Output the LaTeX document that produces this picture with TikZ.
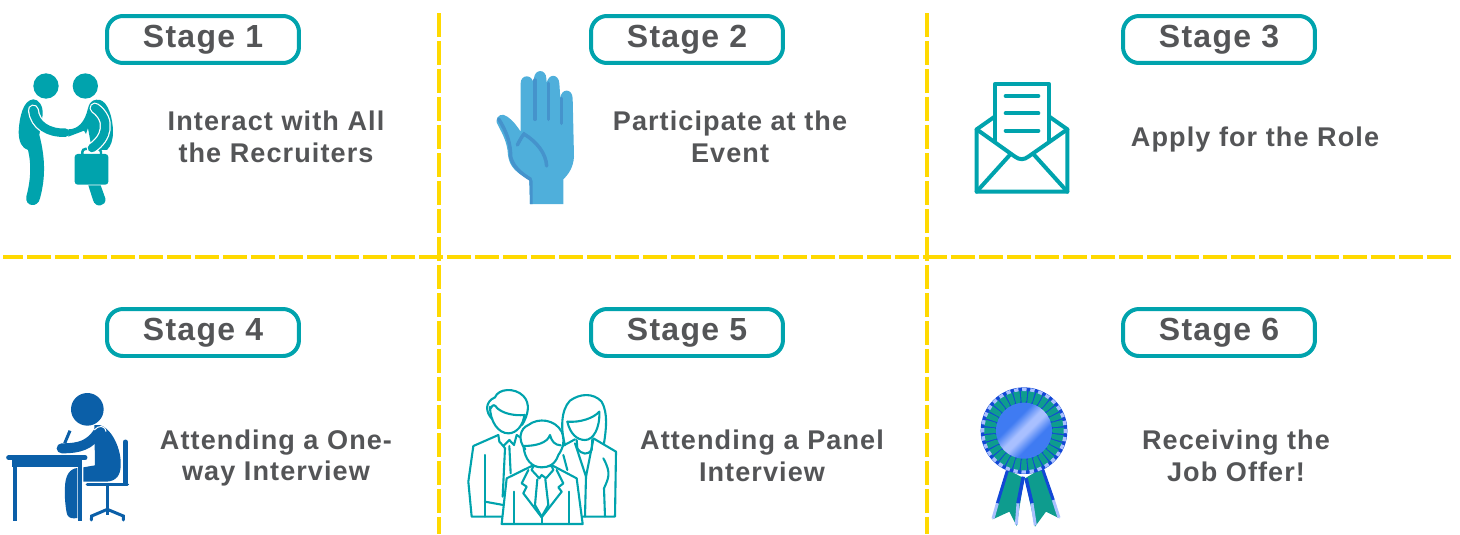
\documentclass[tikz,border=0pt]{standalone}
\usepackage{fontspec}
\setmainfont{Liberation Sans}[LetterSpace=4]
\definecolor{boxteal}{HTML}{00A3AD}
\definecolor{textgrey}{HTML}{545557}
\definecolor{linegold}{HTML}{FFD900}
\definecolor{handblue}{HTML}{4FAFDB}
\definecolor{handdark}{HTML}{4593CC}
\definecolor{deskblue}{HTML}{0B5FA8}
\definecolor{ribbongreen}{HTML}{0E9C8E}
\definecolor{ribbonblue}{HTML}{1247D6}
\definecolor{ribbonpale}{HTML}{A9C0FF}
\definecolor{rosetteblue}{HTML}{3F7BF2}
\pgfdeclarehorizontalshading{rosetteshine}{100bp}{color(0bp)=(rosetteblue);color(38bp)=(rosetteblue);color(48bp)=(ribbonpale);color(53bp)=(ribbonpale);color(63bp)=(rosetteblue);color(100bp)=(rosetteblue)}
\tikzset{
    stagebox/.style={draw=boxteal, line width=0.08cm, rounded corners=0.32cm, minimum width=3.84cm, minimum height=0.94cm, inner sep=0pt, text=textgrey, font=\bfseries\fontsize{18.2}{20}\selectfont},
    stepnote/.style={align=center, inner sep=0pt, text=textgrey, font=\bfseries\fontsize{15.4}{18.14}\selectfont},
    divider/.style={draw=linegold, line width=0.08cm, dash pattern=on 0.48cm off 0.08cm},
    iconline/.style={draw=boxteal, line width=0.08cm, line cap=round, line join=round},
    panelline/.style={draw=boxteal, line width=0.042cm, line cap=round, line join=round},
    icon/.style={shift={#1}, scale=0.33333}
}
\begin{document}
\begin{tikzpicture}[x=0.02cm,y=-0.02cm]
    \useasboundingbox (0,0) rectangle (1460,534);

    % Drawing the dividers
    \coordinate (rowStart) at (-1,257);
    \coordinate (rowEnd) at (1452,257);
    \coordinate (colOneTop) at (439,13);
    \coordinate (colOneEnd) at (439,534);
    \coordinate (colTwoTop) at (927,13);
    \coordinate (colTwoEnd) at (927,534);
    \begin{scope}
        \clip (3,240) rectangle (1460,270);
        \draw [divider] (rowStart) -- (rowEnd);
    \end{scope}
    \draw [divider] (colOneTop) -- (colOneEnd);
    \draw [divider] (colTwoTop) -- (colTwoEnd);

    % Marking the stage boxes
    \node [stagebox] (stageOne) at (203,39.5) {Stage 1};
    \node [stagebox] (stageTwo) at (687,39.5) {Stage 2};
    \node [stagebox] (stageThree) at (1219,39.5) {Stage 3};
    \node [stagebox] (stageFour) at (203,332.5) {Stage 4};
    \node [stagebox] (stageFive) at (687,332.5) {Stage 5};
    \node [stagebox] (stageSix) at (1219,332.5) {Stage 6};

    % Marking the notes
    \node [stepnote] (noteOne) at (276,137) {Interact with All\\the Recruiters};
    \node [stepnote] (noteTwo) at (730,137) {Participate at the\\Event};
    \node [stepnote] (noteThree) at (1255,140) {Apply for the Role};
    \node [stepnote] (noteFour) at (276,458) {Attending a One-\\way Interview};
    \node [stepnote] (noteFive) at (762,456) {Attending a Panel\\Interview};
    \node [stepnote] (noteSix) at (1236,456) {Receiving the\\Job Offer!};

    % Drawing handshake icon
    \begin{scope}[icon={(0,0)}]
        \fill [boxteal] (138,258) circle (38);
        \fill [boxteal] (256,258) circle (38);
        \fill [boxteal] (100,298) .. controls (70,300) and (58,350) .. (56,395)
            .. controls (56,425) and (66,445) .. (84,450)
            .. controls (95,495) and (92,540) .. (79,590)
            .. controls (74,620) and (114,625) .. (120,595)
            .. controls (135,540) and (138,480) .. (118,405)
            -- (128,345) .. controls (130,315) and (115,298) .. (100,298) -- cycle;
        \draw [white, line width=0.22cm, line cap=round] (100,330) .. controls (105,375) and (145,400) .. (196,398);
        \draw [boxteal, line width=0.17cm, line cap=round] (100,330) .. controls (105,375) and (145,400) .. (196,398);
        \fill [boxteal] (205,388) .. controls (235,388) and (255,365) .. (264,325)
            .. controls (270,300) and (285,297) .. (300,300)
            .. controls (324,306) and (339,354) .. (339,396)
            .. controls (339,420) and (333,438) .. (321,450)
            -- (276,450) -- (264,384) -- (258,402) -- (252,392) -- (205,410) -- cycle;
        \fill [boxteal, rounded corners=0.06cm] (224,462) rectangle (325,554);
        \draw [boxteal, line width=0.05cm, rounded corners=0.06cm] (247,462) -- (247,447) -- (303,447) -- (303,462);
        \draw [white, line width=0.22cm, line cap=round] (285,324) .. controls (335,360) and (320,415) .. (276,444);
        \draw [boxteal, line width=0.17cm, line cap=round] (285,324) .. controls (335,360) and (320,415) .. (276,444);
        \fill [boxteal] (265,556) -- (302,556) -- (316,595) .. controls (320,620) and (285,625) .. (279,600) -- cycle;
    \end{scope}

    % Drawing hand icon
    \begin{scope}[icon={(480,60)}]
        \fill [handblue] (150,432) -- (148,358) .. controls (110,340) and (88,320) .. (84,285)
            .. controls (82,240) and (60,210) .. (50,187)
            .. controls (48,165) and (68,158) .. (82,170)
            .. controls (100,182) and (112,200) .. (122,215)
            -- (122,70) .. controls (122,42) and (158,42) .. (160,70)
            -- (162,55) .. controls (164,26) and (198,26) .. (199,55)
            -- (200,70) .. controls (204,40) and (236,40) .. (238,70)
            -- (241,115) .. controls (243,84) and (277,84) .. (278,115)
            -- (282,290) .. controls (280,320) and (268,340) .. (250,358)
            -- (250,432) -- cycle;
        \draw [handdark, line width=0.07cm, line cap=round] (165,60) -- (165,178);
        \draw [handdark, line width=0.07cm, line cap=round] (205,70) -- (205,178);
        \draw [handdark, line width=0.07cm, line cap=round] (244,115) -- (244,190);
        \draw [handdark, line width=0.07cm, line cap=round] (112,255) .. controls (120,240) and (125,230) .. (132,222)
            .. controls (170,245) and (198,280) .. (200,318);
        \draw [handdark, line width=0.07cm, line cap=round] (56,177) .. controls (80,215) and (92,250) .. (92,290)
            .. controls (98,320) and (125,342) .. (152,358);
        \fill [handdark] (148,358) -- (158,362) -- (158,432) -- (150,432) -- cycle;
    \end{scope}

    % Drawing envelope icon
    \begin{scope}[icon={(960,70)}]
        \draw [iconline] (104,212) -- (104,43) -- (268,43) -- (268,212);
        \draw [iconline] (137,78) -- (235,78);
        \draw [iconline] (137,130) -- (235,130);
        \draw [iconline] (137,182) -- (235,182);
        \draw [iconline] (104,140) -- (50,178) -- (50,365) -- (322,365) -- (322,178) -- (268,140);
        \draw [iconline] (50,178) -- (165,260) .. controls (178,270) and (192,270) .. (205,260) -- (322,178);
        \draw [iconline] (50,365) -- (152,252);
        \draw [iconline] (322,365) -- (220,252);
    \end{scope}

    % Drawing desk icon
    \begin{scope}[icon={(0,380)}]
        \fill [deskblue] (262,88) circle (49);
        \fill [deskblue] (283,135) .. controls (325,125) and (365,200) .. (362,255)
            .. controls (362,285) and (350,303) .. (320,305)
            -- (250,305) -- (250,262) -- (285,256) -- cycle;
        \draw [deskblue, line width=0.2cm, line cap=round] (296,155) .. controls (270,195) and (240,205) .. (185,205);
        \draw [white, line width=0.02cm] (283,150) .. controls (295,135) and (315,135) .. (318,155);
        \draw [deskblue, line width=0.06cm] (210,152) -- (194,190);
        \draw [deskblue, line width=0.1cm, line cap=round] (26,233) -- (255,233);
        \fill [deskblue] (36,238) rectangle (236,262);
        \fill [white] (52,262) rectangle (234,400);
        \fill [deskblue] (38,238) rectangle (50,422);
        \fill [deskblue] (234,238) rectangle (247,422);
        \fill [deskblue] (232,264) .. controls (210,266) and (196,285) .. (195,320)
            .. controls (193,350) and (197,390) .. (202,405)
            .. controls (208,416) and (220,416) .. (232,414) -- cycle;
        \draw [deskblue, line width=0.07cm, line cap=round] (262,313) -- (382,313);
        \draw [deskblue, line width=0.1cm, line cap=round] (376,186) -- (376,308);
        \draw [deskblue, line width=0.06cm] (322,316) -- (322,405);
        \draw [deskblue, line width=0.06cm, line cap=round] (274,420) -- (275,408) -- (322,388) -- (370,408) -- (370,420);
    \end{scope}

    % Drawing panel icon
    \begin{scope}[icon={(460,380)}]
        % left man
        \draw [panelline] (97,118) .. controls (75,95) and (75,65) .. (105,52)
            .. controls (115,25) and (165,22) .. (190,48)
            .. controls (212,70) and (205,105) .. (186,135);
        \draw [panelline] (90,80) .. controls (90,125) and (115,160) .. (145,160)
            .. controls (170,160) and (190,135) .. (193,105);
        \draw [panelline] (92,85) .. controls (100,70) and (105,75) .. (112,85)
            .. controls (130,100) and (160,108) .. (195,105);
        \draw [panelline] (115,165) -- (40,198) -- (25,305) -- (35,410) -- (125,410);
        \draw [panelline] (75,225) -- (75,410);
        \draw [panelline] (75,365) -- (130,375);
        \draw [panelline] (115,165) -- (118,185) -- (130,198) -- (148,180) -- (162,195) -- (170,165);
        \draw [panelline] (130,198) -- (135,205) -- (128,350);
        \draw [panelline] (148,198) -- (152,280);
        \draw [panelline] (170,165) -- (185,175);
        % right woman
        \draw [panelline] (315,195) .. controls (302,150) and (302,90) .. (330,62)
            .. controls (360,40) and (400,38) .. (425,65)
            .. controls (445,100) and (438,150) .. (432,190);
        \draw [panelline] (322,125) .. controls (330,160) and (350,180) .. (375,180)
            .. controls (400,180) and (420,145) .. (418,95);
        \draw [panelline] (322,125) .. controls (360,128) and (400,115) .. (418,95);
        \draw [panelline] (350,180) -- (352,205) .. controls (365,225) and (385,225) .. (395,210) -- (397,178);
        \draw [panelline] (345,178) -- (308,198);
        \draw [panelline] (400,175) -- (468,215) -- (465,410) -- (368,410);
        \draw [panelline] (345,190) -- (378,290) -- (400,178);
        \draw [panelline] (378,290) -- (375,410);
        \draw [panelline] (430,235) .. controls (455,280) and (445,295) .. (432,325) -- (435,410);
        \draw [panelline] (310,225) -- (322,270);
        % front man
        \filldraw [panelline, fill=white] (215,258) -- (140,295) -- (125,432) -- (368,432) -- (350,295) -- (280,258) -- cycle;
        \filldraw [panelline, fill=white] (196,208) .. controls (172,180) and (180,145) .. (205,135)
            .. controls (235,112) and (285,118) .. (305,155)
            .. controls (315,180) and (310,205) .. (295,225)
            .. controls (285,255) and (265,262) .. (245,262)
            .. controls (215,262) and (195,240) .. (190,198) -- cycle;
        \draw [panelline] (190,198) .. controls (225,198) and (262,190) .. (270,165)
            .. controls (275,185) and (285,195) .. (302,196);
        \draw [panelline] (220,258) -- (215,270) -- (238,295) -- (245,285) -- (258,295) -- (280,270) -- (275,258);
        \draw [panelline] (205,270) -- (185,310) -- (200,320) -- (190,340) -- (245,412);
        \draw [panelline] (290,270) -- (310,310) -- (295,322) -- (305,335) -- (245,412);
        \draw [panelline] (232,298) -- (225,375) -- (245,410) -- (265,375) -- (256,298);
        \draw [panelline] (245,412) -- (245,432);
        \draw [panelline] (162,335) -- (162,432);
        \draw [panelline] (328,335) -- (328,432);
    \end{scope}

    % Drawing ribbon icon
    \begin{scope}[icon={(970,380)}]
        \fill [ribbongreen] (115,270) -- (162,295) -- (140,438) -- (118,395) -- (68,418) -- cycle;
        \fill [ribbongreen] (165,295) -- (215,265) -- (268,415) -- (228,395) -- (195,440) -- cycle;
        \draw [ribbonblue, line width=0.06cm] (112,272) -- (82,370);
        \draw [ribbonpale, line width=0.06cm] (82,370) -- (69,416);
        \draw [ribbonblue, line width=0.07cm] (160,290) -- (144,370);
        \draw [ribbonpale, line width=0.06cm] (144,370) -- (139,434);
        \draw [ribbonblue, line width=0.07cm] (168,295) -- (186,370);
        \draw [ribbonpale, line width=0.06cm] (186,370) -- (196,436);
        \draw [ribbonblue, line width=0.06cm] (218,268) -- (250,360);
        \draw [ribbonpale, line width=0.06cm] (250,360) -- (267,413);
        \fill [ribbonblue] (162,152) circle (130);
        \foreach \ang in {0,11.25,...,349} {
            \fill [ribbongreen, shift={(162,152)}] (\ang-4.8:80) -- (\ang+4.8:80) -- (\ang+4.6:120) -- (\ang-4.6:120) -- cycle;
            \fill [ribbonpale, shift={(162,152)}] (\ang-2.5:119) -- (\ang+3.5:119) -- (\ang+3.5:129) -- (\ang-2.5:129) -- cycle;
            \fill [ribbonblue, shift={(162,152)}] (\ang+5.6:85) circle (4);
        }
        \shade [shading=rosetteshine, shading angle=-45] (162,152) circle (84);
    \end{scope}
\end{tikzpicture}
\end{document}
